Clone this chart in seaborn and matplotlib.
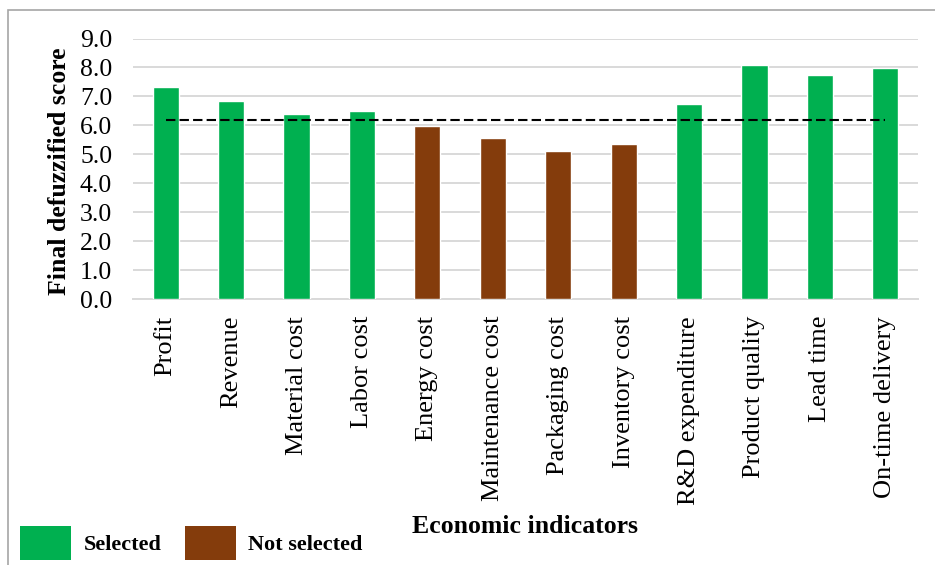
import matplotlib
matplotlib.use("Agg")
import matplotlib.pyplot as plt
import seaborn as sns
import pandas as pd
from matplotlib.patches import Patch, Rectangle

categories = ["Profit", "Revenue", "Material cost", "Labor cost", "Energy cost",
              "Maintenance cost", "Packaging cost", "Inventory cost",
              "R&D expenditure", "Product quality", "Lead time", "On-time delivery"]
scores = [7.34, 6.85, 6.40, 6.51, 5.99, 5.58, 5.13, 5.37, 6.75, 8.10, 7.75, 7.99]
status = ["Selected", "Selected", "Selected", "Selected", "Not selected",
          "Not selected", "Not selected", "Not selected", "Selected",
          "Selected", "Selected", "Selected"]
threshold = 6.20
y_ticks = [0.0, 1.0, 2.0, 3.0, 4.0, 5.0, 6.0, 7.0, 8.0, 9.0]
legend_labels = ["Selected", "Not selected"]

GREEN = "#00B050"
BROWN = "#843C0C"
palette = {"Selected": GREEN, "Not selected": BROWN}

sns.set_theme(style="white")
plt.rcParams["font.family"] = ["Liberation Serif", "DejaVu Serif"]
for k in ["text.color", "xtick.color", "ytick.color", "axes.labelcolor"]:
    plt.rcParams[k] = "black"

df = pd.DataFrame({"indicator": categories, "score": scores, "status": status})

W, H = 935, 565
fig = plt.figure(figsize=(W / 100, H / 100), dpi=100)
ax = fig.add_axes([133 / W, 1 - 299.3 / H, (918 - 133) / W, (299.3 - 38.5) / H])

sns.barplot(data=df, x="indicator", y="score", hue="status", palette=palette,
            order=categories, dodge=False, width=0.4, legend=False, ax=ax,
            saturation=1, zorder=3)

ax.plot([0, len(categories) - 1], [threshold, threshold], color="black",
        linestyle=(0, (4.5, 2)), linewidth=1.5, zorder=4)

ax.set_xlim(-0.5, len(categories) - 0.5)
ax.set_ylim(0, 9)
ax.set_yticks(y_ticks)
ax.set_yticklabels([f"{v:.1f}" for v in y_ticks], fontsize=18.5)
ax.set_xticks(range(len(categories)))
ax.set_xticklabels(categories, rotation=90, fontsize=19, va="top", ha="center")
ax.tick_params(axis="both", length=0)
ax.tick_params(axis="y", pad=15)
ax.tick_params(axis="x", pad=12)
ax.yaxis.grid(True, color="#d9d9d9", linewidth=1.4, zorder=0)
ax.xaxis.grid(False)
ax.set_axisbelow(True)
for s in ["top", "right", "left"]:
    ax.spines[s].set_visible(False)
ax.spines["bottom"].set_color("#d9d9d9")
ax.spines["bottom"].set_linewidth(1.4)
ax.set_xlabel("")
ax.set_ylabel("")

fig.text(60 / W, 1 - 171 / H, "Final defuzzified score", rotation=90,
         ha="center", va="center", fontsize=18.5, fontweight="bold")
fig.text(525 / W, 32 / H, "Economic indicators", ha="center", va="baseline",
         fontsize=18.5, fontweight="bold")

handles = [Patch(facecolor=palette[l], edgecolor="none") for l in legend_labels]
fig.legend(handles, legend_labels, loc="lower left",
           bbox_to_anchor=(20 / W, 5 / H), ncol=2, frameon=False,
           borderpad=0, borderaxespad=0, handlelength=2.3, handleheight=2.0,
           handletextpad=0.55, columnspacing=1.05,
           prop={"family": "Liberation Serif", "weight": "bold", "size": 16})

# chart area border (cropped on right and bottom)
fig.patches.append(Rectangle((8 / W, -0.05), 1.2, 1 - 10 / H + 0.05,
                             transform=fig.transFigure, fill=False,
                             edgecolor="#a6a6a6", linewidth=1.2))

fig.savefig("out.png", dpi=100)
